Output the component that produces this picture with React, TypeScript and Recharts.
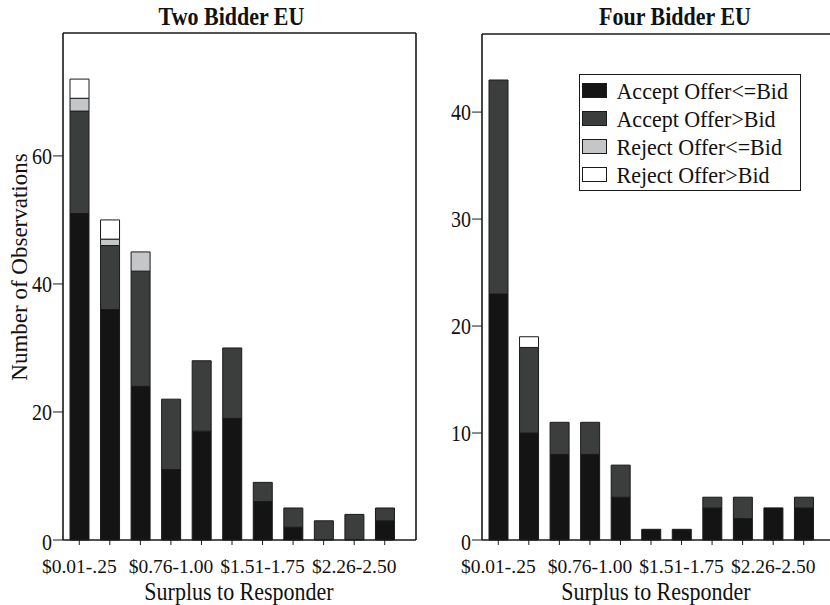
import React from "react";
import { BarChart, Bar, XAxis, YAxis, Legend } from "recharts";

const CATEGORIES = [
  "$0.01-.25",
  "$0.26-.50",
  "$0.51-.75",
  "$0.76-1.00",
  "$1.01-1.25",
  "$1.26-1.50",
  "$1.51-1.75",
  "$1.76-2.00",
  "$2.01-2.25",
  "$2.26-2.50",
  "$2.51-2.75",
];

// Two bidder EU
const TWO_ACCEPT_LE = [51, 36, 24, 11, 17, 19, 6, 2, 0, 0, 3];
const TWO_ACCEPT_GT = [16, 10, 18, 11, 11, 11, 3, 3, 3, 4, 2];
const TWO_REJECT_LE = [2, 1, 3, 0, 0, 0, 0, 0, 0, 0, 0];
const TWO_REJECT_GT = [3, 3, 0, 0, 0, 0, 0, 0, 0, 0, 0];

// Four bidder EU
const FOUR_ACCEPT_LE = [23, 10, 8, 8, 4, 1, 1, 3, 2, 3, 3];
const FOUR_ACCEPT_GT = [20, 8, 3, 3, 3, 0, 0, 1, 2, 0, 1];
const FOUR_REJECT_LE = [0, 0, 0, 0, 0, 0, 0, 0, 0, 0, 0];
const FOUR_REJECT_GT = [0, 1, 0, 0, 0, 0, 0, 0, 0, 0, 0];

const TWO_TICKS = [0, 20, 40, 60];
const FOUR_TICKS = [0, 10, 20, 30, 40];

const SERIES = [
  { key: "acceptLE", name: "Accept Offer<=Bid", fill: "#141414" },
  { key: "acceptGT", name: "Accept Offer>Bid", fill: "#3c3e3d" },
  { key: "rejectLE", name: "Reject Offer<=Bid", fill: "#c5c6c8" },
  { key: "rejectGT", name: "Reject Offer>Bid", fill: "#ffffff" },
];

const buildRows = (a: number[], b: number[], c: number[], d: number[]) =>
  CATEGORIES.map((range, i) => ({
    range,
    acceptLE: a[i],
    acceptGT: b[i],
    rejectLE: c[i],
    rejectGT: d[i],
  }));

const twoData = buildRows(TWO_ACCEPT_LE, TWO_ACCEPT_GT, TWO_REJECT_LE, TWO_REJECT_GT);
const fourData = buildRows(FOUR_ACCEPT_LE, FOUR_ACCEPT_GT, FOUR_REJECT_LE, FOUR_REJECT_GT);

const FONT = "Liberation Serif, Times New Roman, serif";
const INK = "#111";
const AXIS_LINE = { stroke: "#1a1a1a", strokeWidth: 1.6 };

const XTick = (props: any) => {
  const { x, y, payload, index } = props;
  if (index % 3 !== 0) return <g />;
  return (
    <text x={x} y={y + 26} textAnchor="middle" fontFamily={FONT} fontSize={19.5} fill={INK}>
      {payload.value}
    </text>
  );
};

const YTick = (props: any) => {
  const { x, y, payload } = props;
  const shift = payload.value === 0 ? 2 : 0;
  return (
    <text
      transform={`translate(${x} ${y + shift}) scale(1 1.12)`}
      dy="0.35em"
      textAnchor="end"
      fontFamily={FONT}
      fontSize={20}
      fill={INK}
    >
      {payload.value}
    </text>
  );
};

const LegendBox = (props: any) => {
  const items = props.payload || [];
  return (
    <svg width={223} height={117} style={{ display: "block" }}>
      <rect x={0.5} y={0.5} width={221} height={116} fill="#fff" stroke="#1a1a1a" strokeWidth={1} />
      {items.map((item: any, i: number) => {
        const cy = 16.5 + i * 28;
        return (
          <g key={item.value}>
            <rect x={3.5} y={cy - 7} width={24} height={14} fill={item.color} stroke="#1a1a1a" strokeWidth={1} />
            <text
              transform={`translate(37.5 ${cy}) scale(1 1.08)`}
              dy="0.34em"
              fontFamily={FONT}
              fontSize={22}
              fill={INK}
            >
              {item.value}
            </text>
          </g>
        );
      })}
    </svg>
  );
};

const renderBars = () =>
  SERIES.map((s) => (
    <Bar
      key={s.key}
      dataKey={s.key}
      name={s.name}
      stackId="a"
      fill={s.fill}
      stroke="#1a1a1a"
      strokeWidth={1}
      barSize={19}
      isAnimationActive={false}
    />
  ));

export default function App() {
  return (
    <div
      style={{
        position: "absolute",
        left: 0,
        top: 0,
        width: 830,
        height: 605,
        overflow: "hidden",
        background: "#fff",
      }}
    >
      <div style={{ position: "absolute", left: 0, top: 0 }}>
        <BarChart width={430} height={605} data={twoData} margin={{ top: 32, right: 13, bottom: 0, left: 0 }}>
          <XAxis
            dataKey="range"
            interval={0}
            height={65}
            padding={{ left: 1, right: 16 }}
            tick={<XTick />}
            tickSize={5}
            tickLine={{ stroke: "#1a1a1a" }}
            axisLine={AXIS_LINE}
          />
          <XAxis xAxisId="top" orientation="top" dataKey="range" height={1} tick={false} tickLine={false} axisLine={AXIS_LINE} />
          <YAxis
            domain={[0, 79.2]}
            ticks={TWO_TICKS}
            width={63}
            tick={<YTick />}
            tickSize={10}
            tickMargin={1}
            tickLine={{ stroke: "#1a1a1a" }}
            axisLine={AXIS_LINE}
          />
          <YAxis yAxisId="right" orientation="right" width={1} tick={false} tickLine={false} axisLine={AXIS_LINE} />
          {renderBars()}
          <text
            transform="translate(231.5 25) scale(1 1.12)"
            textAnchor="middle"
            fontFamily={FONT}
            fontSize={22}
            fontWeight="bold"
            fill={INK}
          >
            Two Bidder EU
          </text>
          <text
            transform="translate(19 267) rotate(-90)"
            dy="0.35em"
            textAnchor="middle"
            fontFamily={FONT}
            fontSize={23}
            fill={INK}
          >
            Number of Observations
          </text>
          <text
            transform="translate(239 600) scale(1 1.1)"
            textAnchor="middle"
            fontFamily={FONT}
            fontSize={22}
            fill={INK}
          >
            Surplus to Responder
          </text>
        </BarChart>
      </div>
      <div style={{ position: "absolute", left: 418, top: 0 }}>
        <BarChart width={422} height={605} data={fourData} margin={{ top: 33, right: 5, bottom: 0, left: 0 }}>
          <XAxis
            dataKey="range"
            interval={0}
            height={65}
            padding={{ left: 1, right: 16 }}
            tick={<XTick />}
            tickSize={5}
            tickLine={{ stroke: "#1a1a1a" }}
            axisLine={AXIS_LINE}
          />
          <XAxis xAxisId="top" orientation="top" dataKey="range" height={1} tick={false} tickLine={false} axisLine={AXIS_LINE} />
          <YAxis
            domain={[0, 47.3]}
            ticks={FOUR_TICKS}
            width={64}
            tick={<YTick />}
            tickSize={10}
            tickMargin={1}
            tickLine={{ stroke: "#1a1a1a" }}
            axisLine={AXIS_LINE}
          />
          {renderBars()}
          <Legend
            layout="vertical"
            align="center"
            verticalAlign="middle"
            wrapperStyle={{ left: 161, top: 74, width: 223, height: 117 }}
            content={<LegendBox />}
          />
          <text
            transform="translate(257 25) scale(1 1.12)"
            textAnchor="middle"
            fontFamily={FONT}
            fontSize={22}
            fontWeight="bold"
            fill={INK}
          >
            Four Bidder EU
          </text>
          <text
            transform="translate(238 600) scale(1 1.1)"
            textAnchor="middle"
            fontFamily={FONT}
            fontSize={22}
            fill={INK}
          >
            Surplus to Responder
          </text>
        </BarChart>
      </div>
    </div>
  );
}
